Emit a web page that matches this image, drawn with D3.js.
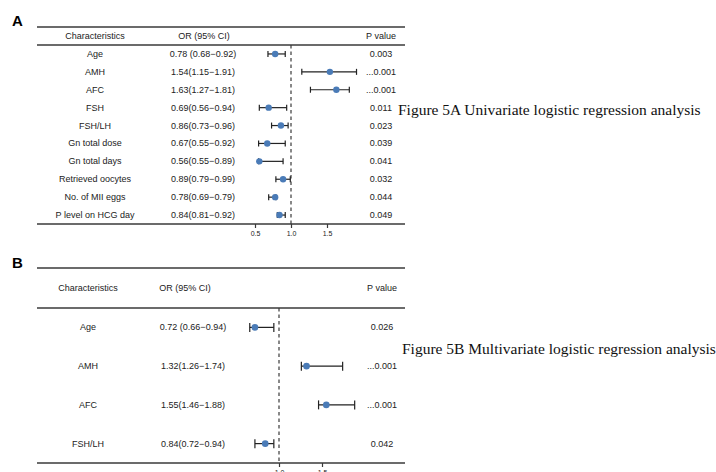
<!DOCTYPE html>
<html>
<head>
<meta charset="utf-8">
<script src="https://cdn.jsdelivr.net/npm/d3@7"></script>
<style>
  body { margin: 0; background: #fff; }
  svg { display: block; }
  text { font-family: "Liberation Sans", Arial, sans-serif; fill: #222; }
</style>
</head>
<body>
<svg id="chart" width="716" height="472"></svg>
<script>
// Panel A: univariate
const varsA = ['Age', 'AMH', 'AFC', 'FSH', 'FSH/LH', 'Gn total dose', 'Gn total days',
  'Retrieved oocytes', 'No. of MII eggs', 'P level on HCG day'];
const orA = [0.78, 1.54, 1.63, 0.69, 0.86, 0.67, 0.56, 0.89, 0.78, 0.84];
const lowA = [0.68, 1.15, 1.27, 0.56, 0.73, 0.55, 0.55, 0.79, 0.69, 0.81];
const highA = [0.92, 1.91, 1.81, 0.94, 0.96, 0.92, 0.89, 0.99, 0.79, 0.92];
const ciTextA = ['0.78 (0.68\u22120.92)', '1.54(1.15\u22121.91)', '1.63(1.27\u22121.81)',
  '0.69(0.56\u22120.94)', '0.86(0.73\u22120.96)', '0.67(0.55\u22120.92)', '0.56(0.55\u22120.89)',
  '0.89(0.79\u22120.99)', '0.78(0.69\u22120.79)', '0.84(0.81\u22120.92)'];
const pA = ['0.003', '...0.001', '...0.001', '0.011', '0.023', '0.039', '0.041', '0.032', '0.044', '0.049'];
const ticksA = [0.5, 1.0, 1.5];

// Panel B: multivariate
const varsB = ['Age', 'AMH', 'AFC', 'FSH/LH'];
const orB = [0.72, 1.32, 1.55, 0.84];
const lowB = [0.66, 1.26, 1.46, 0.72];
const highB = [0.94, 1.74, 1.88, 0.94];
const ciTextB = ['0.72 (0.66\u22120.94)', '1.32(1.26\u22121.74)', '1.55(1.46\u22121.88)', '0.84(0.72\u22120.94)'];
const pB = ['0.026', '...0.001', '...0.001', '0.042'];
const ticksB = [1.0, 1.5];

const svg = d3.select('#chart');
const dotColor = '#4a7bb7';
const lineColor = '#3a3a3a';

const drawPanel = (cfg) => {
  const g = svg.append('g');
  const rows = cfg.vars.map((v, i) => ({
    name: v, or: cfg.or[i], low: cfg.low[i], high: cfg.high[i], ci: cfg.ciText[i], p: cfg.p[i]
  }));

  const x = d3.scaleLinear().domain(cfg.xDomain).range(cfg.xRange);
  const y = d3.scaleBand().domain(cfg.vars).range([cfg.headLine, cfg.axisY]);

  // panel letter
  g.append('text')
    .attr('x', 12).attr('y', cfg.letterY)
    .style('font-size', '15px').style('font-weight', 'bold').style('fill', '#000')
    .text(cfg.letter);

  // horizontal rules
  [cfg.topLine, cfg.headLine, cfg.axisY].forEach((yy) => {
    g.append('line')
      .attr('x1', 37).attr('x2', 405).attr('y1', yy).attr('y2', yy)
      .attr('stroke', lineColor).attr('stroke-width', 1.3);
  });

  // header
  const head = [['Characteristics', cfg.colName], ['OR (95% CI)', cfg.colCIHead], ['P value', cfg.colP]];
  head.forEach(([t, cx]) => {
    g.append('text')
      .attr('x', cx).attr('y', cfg.headY)
      .attr('text-anchor', 'middle').attr('dominant-baseline', 'central')
      .style('font-size', '9px')
      .text(t);
  });

  // reference line
  g.append('line')
    .attr('x1', x(1)).attr('x2', x(1))
    .attr('y1', cfg.headLine).attr('y2', cfg.axisY)
    .attr('stroke', lineColor).attr('stroke-width', 1.2)
    .attr('stroke-dasharray', '3.5,3');

  const row = g.selectAll('g.row')
    .data(rows)
    .enter()
    .append('g')
    .attr('class', 'row')
    .attr('transform', (d) => `translate(0,${y(d.name) + y.bandwidth() / 2})`);

  row.append('text')
    .attr('x', cfg.colName).attr('text-anchor', 'middle').attr('dominant-baseline', 'central')
    .style('font-size', '9px')
    .text((d) => d.name);

  row.append('text')
    .attr('x', cfg.colCI).attr('text-anchor', 'middle').attr('dominant-baseline', 'central')
    .style('font-size', '9px')
    .text((d) => d.ci);

  row.append('text')
    .attr('x', cfg.colP).attr('text-anchor', 'middle').attr('dominant-baseline', 'central')
    .style('font-size', '9px')
    .text((d) => d.p);

  // CI whiskers
  row.append('line')
    .attr('x1', (d) => x(d.low)).attr('x2', (d) => x(d.high))
    .attr('stroke', '#222').attr('stroke-width', 1.2);
  ['low', 'high'].forEach((k) => {
    row.append('line')
      .attr('x1', (d) => x(d[k])).attr('x2', (d) => x(d[k]))
      .attr('y1', -cfg.cap).attr('y2', cfg.cap)
      .attr('stroke', '#222').attr('stroke-width', 1.2);
  });

  row.append('circle')
    .attr('cx', (d) => x(d.or))
    .attr('r', cfg.r)
    .attr('fill', dotColor);

  // x axis
  const axis = g.append('g')
    .attr('transform', `translate(0,${cfg.axisY})`)
    .call(d3.axisBottom(x).tickValues(cfg.ticks).tickFormat(d3.format('.1f')).tickSize(4).tickPadding(3));
  axis.select('.domain').remove();
  axis.selectAll('line').attr('stroke', lineColor).attr('stroke-width', 1.2);
  axis.selectAll('text').style('font-size', '7px').style('font-family', '"Liberation Sans", Arial, sans-serif').attr('fill', '#222');

  // caption
  svg.append('text')
    .attr('x', cfg.capX).attr('y', cfg.capY)
    .style('font-family', '"Liberation Serif", "Times New Roman", serif')
    .style('font-size', '15.5px').style('fill', '#111')
    .text(cfg.caption);
};

drawPanel({
  letter: 'A', letterY: 26,
  vars: varsA, or: orA, low: lowA, high: highA, ciText: ciTextA, p: pA, ticks: ticksA,
  xDomain: [0.5, 1.5], xRange: [255, 327],
  topLine: 27, headLine: 45, axisY: 224, headY: 36,
  colName: 95, colCIHead: 204, colCI: 203, colP: 381,
  cap: 3, r: 3.2,
  caption: 'Figure 5A Univariate logistic regression analysis', capX: 398, capY: 115
});

drawPanel({
  letter: 'B', letterY: 268,
  vars: varsB, or: orB, low: lowB, high: highB, ciText: ciTextB, p: pB, ticks: ticksB,
  xDomain: [1.0, 1.5], xRange: [279, 322],
  topLine: 268, headLine: 308, axisY: 463, headY: 288,
  colName: 88, colCIHead: 185, colCI: 193, colP: 382,
  cap: 4.5, r: 3.3,
  caption: 'Figure 5B Multivariate logistic regression analysis', capX: 402, capY: 354
});
</script>
</body>
</html>
